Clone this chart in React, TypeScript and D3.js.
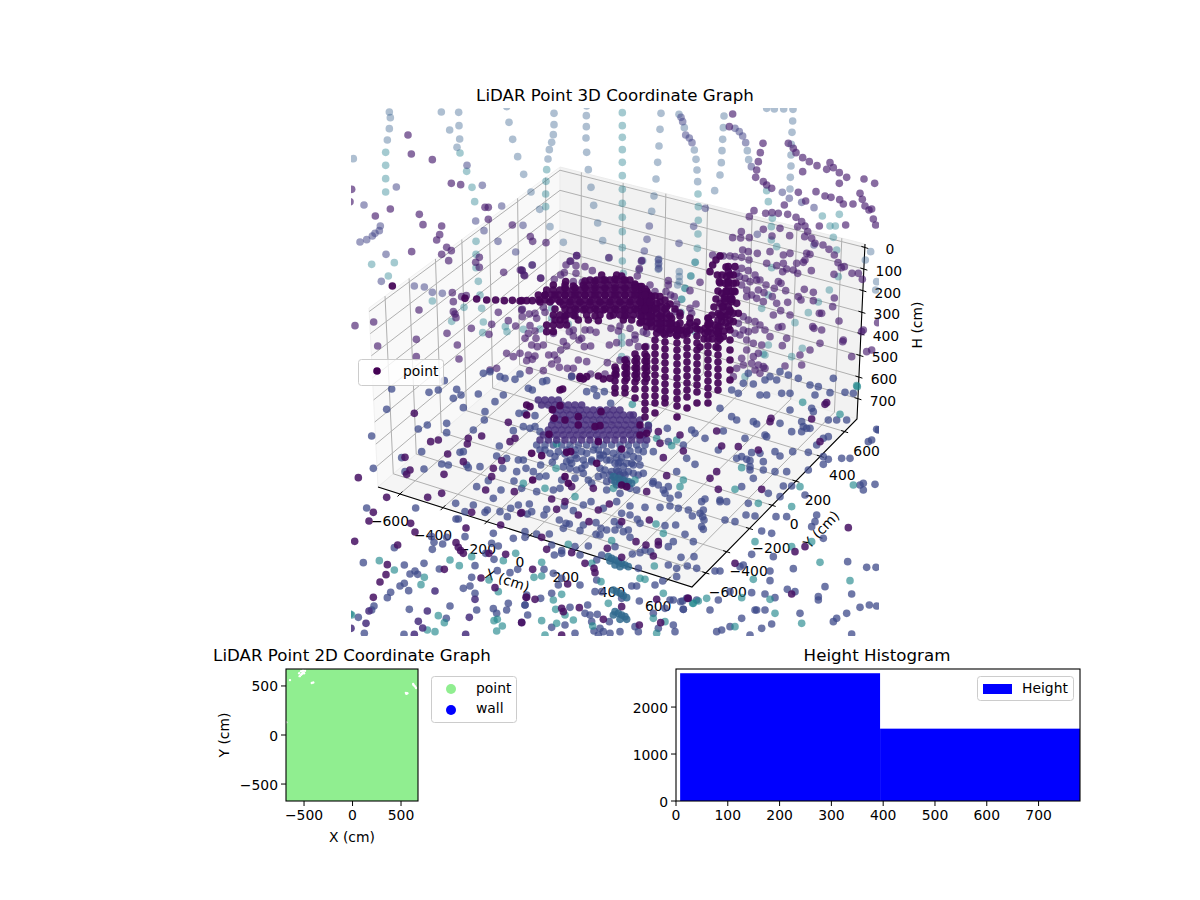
import React from "react";
import * as d3 from "d3";

type Pt = number[];

// ---- 3D scatter readings, each list in the reading-grid units of its sheet ----
const nwTeal: Pt[] = [[107,157],[107,196],[107,236],[107,276],[330,159],[350,214],[366,262],[374,305],[378,424],[378,463],[378,503],[385,544],[390,585],[395,625],[400,666],[398,698],[590,209],[588,244],[587,282],[587,320],[65,493],[133,488],[115,528],[247,603],[305,664],[342,622],[466,680],[471,695]];
const nwBlue: Pt[] = [[118,36],[121,53],[118,86],[112,120],[274,36],[326,37],[327,77],[329,117],[321,142],[299,90],[477,67],[488,118],[503,170],[521,223],[543,276],[569,328],[600,380],[612,40],[612,74],[610,104],[605,127],[598,149],[594,177],[709,47],[709,80],[708,114],[710,157],[715,209],[723,262],[731,316],[743,369],[758,422],[776,474],[10,176],[470,20],[710,18],[640,427]];
const nwLav: Pt[] = [[351,196],[397,256],[42,315],[139,261],[455,318],[30,426],[50,419],[67,408],[75,400],[88,392],[91,378],[94,544],[193,558],[223,561],[247,577],[277,580],[108,463],[377,363],[402,392],[444,424],[497,456],[546,495],[519,376]];
const nwPurple: Pt[] = [[174,105],[184,162],[247,179],[304,250],[332,254],[121,327],[76,348],[208,343],[219,374],[275,378],[269,404],[260,420],[185,455],[275,463],[290,442],[304,452],[296,482],[377,487],[388,472],[388,502],[405,322],[415,322],[415,358],[487,375],[541,410],[548,424],[588,428],[680,467],[660,484],[461,517],[511,510],[517,512],[524,527],[572,534],[515,630],[445,637],[207,630],[307,578],[310,605],[335,590],[349,587],[310,635],[315,642],[318,653],[71,666],[15,677],[83,738],[199,718],[291,700],[322,735],[364,685],[417,703],[425,673],[475,662],[497,678],[199,770],[327,777],[5,268],[0,305],[440,805],[420,810],[490,770],[470,760],[510,760]];
const nwDeep: Pt[] = [[127,558],[345,595],[380,597],[410,600],[437,600],[463,602],[487,601],[510,603]];

const neTeal: Pt[] = [[37,38],[37,77],[37,112],[37,149],[37,187],[37,227],[37,268],[37,310],[37,352],[37,395],[37,443],[264,282],[265,320],[265,361],[264,402],[262,445],[256,487],[243,528],[225,565],[215,598],[470,272],[475,305],[487,355],[484,380],[484,420],[485,503],[637,348],[660,378],[676,378],[688,343],[670,412],[680,450],[685,530],[658,570],[625,606],[595,638],[555,668],[577,745],[545,770],[460,762],[500,440]];
const neBlue: Pt[] = [[153,40],[150,88],[147,138],[143,187],[138,237],[132,288],[125,334],[207,43],[342,48],[340,83],[338,118],[336,152],[334,188],[330,225],[314,272],[549,28],[521,27],[493,27],[470,25],[548,63],[546,97],[544,133],[543,165],[543,198],[541,232],[540,267],[223,83],[258,178],[261,210],[263,245],[253,150],[416,179],[412,152],[782,455],[766,480],[800,545],[797,570]];
const neLav: Pt[] = [[118,378],[111,418],[103,453],[94,484],[146,478],[146,490],[146,505],[87,510],[286,325],[251,379],[207,430],[213,52],[218,65],[227,105],[238,114],[246,128],[375,85],[388,95],[398,108],[407,128],[424,200],[517,277],[538,295],[575,307],[612,323],[442,403],[612,435]];
const nePurple: Pt[] = [[368,42],[358,80],[459,130],[451,158],[445,185],[578,215],[440,210],[437,232],[460,245],[470,255],[485,265],[565,277],[587,303],[618,275],[645,288],[663,292],[689,299],[700,312],[729,312],[750,280],[757,298],[765,318],[777,330],[785,327],[790,357],[797,375],[535,130],[550,145],[558,158],[578,173],[598,185],[621,197],[650,208],[670,203],[660,188],[688,218],[710,232],[762,237],[794,250],[688,250],[523,315],[505,340],[533,343],[558,352],[575,365],[563,380],[585,378],[593,395],[605,415],[615,430],[639,435],[628,378],[707,375],[657,448],[673,465],[684,488],[694,503],[726,520],[703,500],[745,520],[757,538],[672,523],[432,332],[418,350],[467,340],[486,338],[460,388],[510,385],[539,407],[584,410],[580,487],[600,463],[590,460],[486,408],[418,413],[394,395],[392,414],[368,413],[398,450],[520,465],[540,460],[585,480],[560,490],[604,512],[550,510],[520,490],[500,497],[470,490],[518,515],[530,507],[563,520],[513,550],[527,572],[493,565],[505,545],[583,568],[610,577],[610,602],[565,590],[573,600],[533,607],[487,590],[500,610],[673,594],[668,620],[628,640],[635,640],[512,632],[540,645],[516,680],[505,682],[490,645],[612,685],[635,690],[608,680],[687,663],[600,750],[530,715],[570,765],[517,737],[575,795],[525,798],[460,800],[700,720],[698,725],[630,730],[760,690],[785,750],[770,755],[725,770],[803,668],[755,695],[480,455],[480,710]];

const swSlate: Pt[] = [[400,10],[420,5],[450,20],[465,25],[495,28],[510,12],[435,95],[460,75],[385,72],[405,125],[403,150],[370,180],[507,130],[490,182],[290,160],[290,188],[232,165],[205,177],[110,118],[125,57],[65,198],[215,245],[330,247],[340,245],[448,228],[440,258],[470,265],[458,295],[415,332],[390,290],[350,285],[355,293],[155,263],[165,305],[222,297],[275,282],[295,285],[70,295],[380,350],[320,58],[333,75],[310,85],[340,113],[237,67],[265,60],[283,32],[505,270],[500,305],[492,333],[453,360],[430,385]];
const swViolet: Pt[] = [[475,157],[480,215],[495,205],[395,198],[355,205],[352,222],[242,215],[265,210],[293,252],[455,272],[430,295],[425,320],[340,275],[165,262],[180,300],[170,313],[282,313],[25,323],[407,360],[493,365],[110,382],[233,382],[275,370],[193,130]];

const seSlate: Pt[] = [[415,10],[480,20],[510,5],[400,40],[430,42],[465,30],[500,30],[535,15],[565,25],[600,45],[625,50],[670,25],[365,60],[385,70],[450,75],[470,75],[515,70],[540,70],[615,75],[660,68],[705,67],[730,70],[540,120],[605,115],[610,125],[655,150],[680,150],[710,150],[575,155],[580,170],[590,175],[330,115],[365,140],[380,150],[430,155],[440,162],[510,160],[545,185],[575,185],[600,175],[655,200],[640,205],[620,225],[465,195],[405,205],[340,183],[470,200],[285,205],[325,240],[380,265],[450,250],[425,248],[395,260],[410,268],[420,272],[460,275],[495,245],[510,258],[548,245],[595,247],[640,260],[655,268],[640,283],[695,265],[720,265],[595,300],[530,305],[495,305],[460,300],[420,300],[420,290],[430,325],[395,350],[475,370],[520,348],[545,348],[510,380],[415,400],[330,395],[350,395],[285,387],[275,395],[280,420],[330,390],[270,430],[278,440],[282,450],[275,470],[280,478],[345,450],[375,455],[408,435],[435,438],[498,440],[530,440],[620,435],[585,375],[615,455],[605,470],[485,490],[455,483],[640,505],[425,553],[490,560],[390,590],[315,603],[330,603],[400,585],[480,603],[550,596],[713,575],[770,592],[798,592],[480,632],[532,658],[555,665],[645,650],[625,680],[625,690],[425,668],[465,672],[495,683],[360,665],[325,690],[212,695],[725,672],[750,712],[778,705],[800,708],[710,730],[680,745],[670,755],[570,730],[465,720],[440,720],[435,720],[485,762],[455,775],[395,745],[360,770],[335,780],[320,785],[300,720],[220,718],[725,792],[420,795],[760,340],[795,343],[760,360],[750,345],[800,178],[785,210],[775,215],[805,180]];
const seViolet: Pt[] = [[480,155],[483,145],[650,98],[645,103],[605,147],[630,215],[320,183],[335,228],[385,230],[445,240],[320,305],[300,325],[325,358],[455,358],[555,545],[585,530],[715,473],[375,580],[545,672],[235,685]];
const seTeal: Pt[] = [[742,50],[578,97],[690,133],[395,293],[375,358],[570,350],[445,400],[545,410],[545,530],[605,515],[435,515],[630,577],[720,632],[430,628],[480,688],[395,683],[290,685],[265,693],[250,700],[575,760],[495,730],[375,770],[730,345],[740,47]];

const arcPurple: Pt[] = [[170,17],[267,23],[37,45],[365,32],[358,56],[352,78],[62,85],[5,60],[12,75],[138,45],[152,33],[168,47],[195,50],[168,70],[122,75],[103,88],[160,95],[187,97],[217,62],[133,68],[7,178],[7,200],[28,192],[45,190],[50,205],[70,172],[75,187],[30,227],[25,250],[45,243],[48,265],[15,265],[35,285],[52,290],[70,285],[100,250],[130,275],[148,245],[160,240],[160,258],[185,265],[177,270],[193,290],[212,288],[140,288],[122,300],[195,240],[210,240],[228,247],[273,235],[295,243],[300,228],[330,235],[345,255],[345,268],[370,245],[380,250],[268,285],[290,278],[328,278],[355,290],[378,290],[86,315],[103,315],[112,330],[95,342],[118,352],[142,355],[160,355],[175,330],[200,335],[25,315],[20,332],[45,318],[37,328],[28,362],[70,362],[262,338],[300,330],[320,328],[255,372],[212,372],[155,378]];
const arcTeal: Pt[] = [[95,175],[95,205],[10,238],[60,237],[145,222],[305,260],[305,280],[307,33],[310,70],[305,320]];
const arcDeep: Pt[] = [[245,75],[290,75],[305,78],
[210,90],[230,90],[250,90],[270,90],[290,90],[310,90],[330,90],[137,95],
[100,105],[135,105],[160,108],[190,105],[205,105],[225,105],[245,105],[265,105],[285,105],[305,105],[325,105],[345,105],[360,110],
[80,120],[100,120],[120,120],[140,120],[160,120],[180,120],[200,120],[220,120],[240,120],[260,120],[280,120],[300,120],[320,120],[340,120],[360,120],[380,125],
[55,135],[75,135],[95,135],[115,135],[135,135],[155,135],[175,135],[195,135],[215,135],[235,135],[255,135],[275,135],[295,135],[315,135],[335,135],[355,135],[375,135],[388,135],
[5,152],[20,152],[37,152],[57,150],[75,150],[95,150],[115,150],[135,150],[155,150],[175,150],[195,150],[215,150],[235,150],[255,150],[275,150],[295,150],[315,150],[335,150],[355,150],[375,150],
[130,165],[150,165],[170,165],[190,165],[210,165],[230,165],[250,165],[270,165],[290,165],[310,165],[330,165],[350,165],[370,165],[388,165],
[150,180],[170,180],[190,180],[210,180],[230,180],[250,180],[270,180],[290,180],[310,180],[330,180],[350,180],[370,180],[385,185],
[100,195],[120,195],[140,195],[160,195],[200,195],[240,195],[280,195],[300,195],[320,195],[340,195],
[105,210],[120,210],[135,210],[175,210],[205,210],[235,212],[310,210],[335,210],
[80,225],[100,225],[120,225],[140,225],[80,245],[100,245],
[288,360],[288,375],[320,340],[320,355],[320,370],[320,385],[350,325],[350,340],[350,355],[350,370],[350,385],[380,320],[380,335],[380,350],[380,365],[380,385],[180,380],[200,380]];

const ridgeBlue: Pt[] = [[8,32],[55,30],[55,45],[55,58],[118,65],[118,80],[118,95],[113,105]];
const ridgeTeal: Pt[] = [[152,78],[165,37],[135,115],[125,148],[123,187],[165,245],[365,175],[375,315],[385,135],[385,285],[315,380]];
const ridgePurple: Pt[] = [[85,92],[85,105],[30,105],[45,125],[78,125],[92,135],[103,140],[180,97],[150,122],[110,162],[168,162],[105,185],[150,175],[155,190],[150,220],[218,15],[240,18],[270,18],[285,20],[305,22],[327,30],[352,10],[325,5],[250,18],[305,55],[325,62],[345,75],[360,90],[378,105],[350,90],[330,95],[315,85],[298,80],[290,70],[305,105],[320,120],[335,135],[350,145],[370,155],[320,140],[355,120],[372,128],[310,200],[325,210],[345,215],[360,225],[375,240],[345,240],[325,245],[310,240],[295,220],[300,255],[285,250],[320,270],[340,280],[365,285],[340,320],[355,310],[320,300],[335,340],[355,345],[375,355],[305,325],[310,345],[290,355],[345,360],[360,370],[280,380]];
const ridgeDeep: Pt[] = [[60,140],[5,110],[5,125],[20,125],[5,140],[20,140],[35,140],[5,155],[20,155],[35,155],[50,160],[5,170],[20,170],[35,170],[50,175],[65,170],[80,170],[5,185],[20,185],[35,185],[50,190],[65,190],[80,190],[5,200],[20,200],[35,200],[50,205],[65,205],[80,205],[95,205],[5,215],[20,215],[35,215],[50,220],[65,220],[80,220],[95,220],[110,225],[20,230],[35,230],[50,235],[65,235],[80,235],[95,235],[110,240],[125,240],[140,245],[50,250],[70,250],[90,250],[110,255],[130,255],
[205,205],[205,220],[195,235],[210,235],[195,250],[215,250],[265,50],[265,65],[260,80],[265,95],[265,110],[260,125],[255,140],[255,155],[250,170],[250,185],[245,200],[245,215],[240,230],[235,245],[255,200],[265,170],[275,155],[272,140],[275,125],[235,260],[250,260],[265,230],[280,190],[210,65],[218,45],[228,30],[240,18],[232,75],[238,95],[285,50],[280,75],[255,100],[280,100],[245,130],[285,125],[240,160],[270,185],[235,190],[225,225],[280,215],[290,160],[295,190]];

// columns of the long ridge, read in figure pixels
const columnDeep: Pt[] = [[615,367],[615,374],[615,381],[615,388],[615,393],
[625,360],[625,367],[625,374],[625,381],[625,388],[625,393],
[635,354],[635,361],[635,368],[635,375],[635,382],[635,389],[635,398],
[645,347],[645,354],[645,361],[645,368],[645,375],[645,382],[645,389],[645,396],[645,403],[645,410],[645,417],
[655,340],[655,347],[655,354],[655,361],[655,368],[655,375],[655,382],[655,389],[655,396],[655,403],[655,413],
[665,335],[665,342],[665,349],[665,356],[665,363],[665,370],[665,377],[665,384],[665,391],[665,398],[665,403],
[677,329],[677,336],[677,343],[677,350],[677,357],[677,364],[677,371],[677,378],[677,385],[677,392],[677,399],[677,406],[677,417],
[687,327],[687,334],[687,341],[687,348],[687,355],[687,362],[687,369],[687,376],[687,383],[687,390],[687,397],[687,408],
[697,322],[697,329],[697,336],[697,343],[697,350],[697,357],[697,364],[697,371],[697,378],[697,385],[697,392],[697,403],
[708,318],[708,325],[708,332],[708,339],[708,346],[708,353],[708,360],[708,367],[708,374],[708,381],[708,388],[708,395],[708,403],
[718,320],[718,327],[718,334],[718,341],[718,348],[718,355],[718,362],[718,369],[718,376],[718,383],[718,390],
[730,300],[730,310],[730,320],[730,330],[730,340],[730,350],[730,360],[730,370],[730,380],
[726,267],[722,275],[730,275],[720,283],[728,283],[736,283],[718,291],[726,291],[734,291],[716,299],[724,299],[732,299],[714,307],[722,307],[712,315],[720,315],[728,315],[710,323],[726,323],[716,331],[724,331],[704,339],[712,339],[720,339],[700,347],[716,347]];
const bulkDeep: Pt[] = [[585,281],[595,281],[605,280],[615,279],[625,280],[635,284],
[565,288],[575,288],[585,288],[595,288],[605,288],[615,288],[625,288],[635,288],[645,289],
[545,295],[555,295],[565,295],[575,295],[585,295],[595,295],[605,295],[615,295],[625,295],[635,295],[645,295],[655,296],[665,300],
[540,302],[550,302],[560,302],[570,302],[580,302],[590,302],[600,302],[610,302],[620,302],[630,302],[640,302],[650,302],[660,302],[670,304],
[555,309],[565,309],[575,309],[585,309],[595,309],[605,309],[615,309],[625,309],[635,309],[645,309],[655,309],[665,309],[675,309],[680,313],
[565,316],[575,316],[595,316],[610,316],[625,316],[640,316],[650,316],[660,316],[670,316],[680,316],[690,318],
[640,323],[650,323],[660,323],[670,323],[680,323],[690,323],[695,326],[660,330],[670,330],[680,330],[690,330],[700,330]];

const domeDeep: Pt[] = [[20,90],[30,95],[120,45],[128,42],[120,92],[97,104],[103,130],[135,135],[175,125],[243,110],[225,155],[240,152],[175,150],[360,150],[360,180],[380,175],[235,200],[152,230],[140,232],[87,178],[65,242],[35,235],[230,265],[305,222],[135,305],[145,325],[38,315],[305,330],[320,335],[20,120],[180,10],[190,12],[235,3],[250,12],[270,10]];
const domeIndigo: Pt[] = [[55,75],[75,75],[95,75],[115,75],[65,90],[85,90],[105,90],[125,90],[145,90],[165,90],[185,90],[100,105],[120,105],[140,105],[160,105],[180,105],[200,105],[220,105],[240,105],[260,105],[280,105],[300,105],[110,120],[130,120],[150,120],[170,120],[190,120],[210,120],[230,120],[250,120],[270,120],[290,120],[310,120],[330,120],[340,120],[100,135],[120,135],[140,135],[160,135],[180,135],[200,135],[220,135],[240,135],[260,135],[280,135],[300,135],[320,135],[340,135],[360,135],[95,150],[115,150],[135,150],[155,150],[175,150],[195,150],[215,150],[235,150],[255,150],[275,150],[295,150],[315,150],[335,150],[355,150],[385,152],[85,165],[105,165],[125,165],[145,165],[165,165],[185,165],[205,165],[225,165],[245,165],[265,165],[285,165],[305,165],[325,165],[345,165],[365,165],[385,165],[70,180],[90,180],[110,180],[130,180],[150,180],[170,180],[190,180],[210,180],[230,180],[250,180],[270,180],[290,180],[310,180],[330,180],[350,180],[370,180],[60,195],[85,195],[110,195],[135,195],[160,195],[185,195],[210,195],[235,195],[260,195],[285,195],[310,195],[335,195],[360,195],[380,195]];
const domeSlate: Pt[] = [[50,210],[75,210],[100,210],[125,210],[150,210],[175,210],[200,210],[225,210],[250,210],[275,210],[300,210],[325,210],[350,210],[375,210],[115,230],[185,230],[200,235],[220,225],[290,248],[305,248],[340,245],[355,250],[370,230],[400,230],[25,40],[37,45],[68,20],[80,17],[155,5],[200,50],[222,42],[230,62],[253,50],[272,85],[15,115],[45,122],[10,155],[30,160],[45,155],[60,170],[10,255],[18,280],[40,290],[58,305],[78,303],[97,262],[62,270],[135,237],[140,260],[155,265],[445,200],[490,210],[500,250],[525,268],[515,165],[525,175],[442,160],[335,265],[290,285],[325,290],[370,295],[400,320],[415,330],[470,290],[445,335],[430,345],[398,325],[350,345],[300,355],[260,345],[205,315],[215,325],[235,305],[250,300],[270,300],[300,300],[315,320],[185,280],[195,270],[165,310],[100,345],[120,340],[125,315],[50,350],[5,340],[435,355],[450,370],[475,360],[290,330],[300,315],[330,340],[295,265],[310,275],[270,255],[250,240],[165,225],[320,240],[280,235],[240,240],[215,260],[190,295],[260,320],[275,315],[285,305],[315,300],
[150,255],[170,250],[190,255],[215,255],[240,250],[260,255],[285,265],[300,262],[320,265],[340,270],[360,270],[130,275],[150,280],[170,285],[240,280],[255,285],[275,290],[295,290],[310,295],[340,295],[355,300],[140,225],[165,240],[235,225],[260,230],[300,228],[330,228],[355,225],[90,235],[105,245],[75,225],[60,225]];
const domeTeal: Pt[] = [[337,88],[110,207],[108,280],[345,315],[480,335],[490,315],[410,190],[470,195],[455,212],[280,340],[75,340],[10,325],[165,365],[385,150]];
const domeSteel: Pt[] = [[280,305],[295,310],[310,315],[325,320],[335,325],[285,320],[300,325],[315,330]];
const domeViolet: Pt[] = [[420,205],[430,248],[490,228],[480,180],[415,170],[380,350],[440,302],[220,340],[95,372],[135,380],[155,335]];

const lowSlate: Pt[] = [[50,24],[197,24],[318,57],[325,57],[245,110],[252,127],[290,112],[278,132],[247,148],[345,110],[40,188],[163,195],[222,190],[180,222],[195,213],[203,223],[150,258],[163,250],[176,272],[122,277],[112,293],[72,318],[65,330],[25,352],[178,328],[300,318],[340,265],[360,258],[365,232],[375,197],[375,280],[380,330],[430,100],[445,138],[425,130],[407,160],[432,178],[442,212],[480,218],[503,208],[525,95],[490,115],[430,326],[475,310],[470,330],[525,315],[440,340],[289,355],[268,207],[162,403],[43,400],[530,285],[533,345],[317,10],[370,15],[405,37],[412,30],[450,35],[472,50],[482,25],[505,15],[133,143],[345,35]];
const lowTeal: Pt[] = [[88,182],[133,210],[223,232],[213,254],[300,180],[328,197],[365,170],[497,160],[460,182],[417,240],[445,275],[265,347],[283,368],[442,358],[432,362],[457,378],[440,393],[232,390],[255,395],[0,342],[5,345]];
const lowIndigo: Pt[] = [[232,333],[57,333],[48,370],[205,364],[218,384],[3,385],[347,403],[515,367],[358,352],[193,403],[375,298],[255,273]];
const lowViolet: Pt[] = [[70,37],[57,63],[182,70],[195,96],[14,124],[143,135],[112,194],[108,224],[90,246],[70,292],[283,208],[348,84],[318,128],[325,142],[332,152],[340,160],[417,160],[467,163],[393,234],[435,263],[530,292],[365,37],[512,40],[452,75]];

const footSlate: Pt[] = [[28,12],[35,35],[22,42],[72,45],[80,28],[133,18],[160,32],[190,15],[213,5],[250,25],[290,5],[330,18],[375,22],[420,22],[450,18],[475,25],[505,30],[517,48],[118,60],[138,70],[130,85],[148,72],[190,75],[228,68],[180,92],[228,103],[243,85],[260,90],[240,105],[283,65],[305,40],[330,45],[352,58],[360,70],[435,77],[467,75],[330,112],[325,90],[310,95],[298,75],[285,90],[495,103],[520,125],[460,125],[445,140],[375,150],[392,155],[483,172],[522,170],[445,195],[470,205],[502,198],[530,205],[470,230],[355,205],[428,243],[500,295],[15,112],[50,102],[88,102],[95,135],[125,152],[103,165],[125,160],[165,140],[205,138],[180,165],[285,140],[245,165],[230,180],[337,162],[360,158],[72,208],[100,220],[125,235],[115,255],[180,255],[230,240],[225,275],[245,275],[305,295],[335,258],[350,258],[358,303],[405,255],[450,300],[460,300],[488,303],[530,300],[490,328],[435,325],[400,340],[203,315],[62,295],[15,315],[95,280],[150,322],[195,340],[210,345],[232,343],[345,380],[268,365],[215,365],[95,382],[135,375],[222,393],[240,385],[250,395],[300,395],[355,395],[415,385],[460,375],[465,395],[165,400],[235,405],[270,400]];
const footSteel: Pt[] = [[265,170],[275,175],[285,180],[295,185],[305,190],[315,195],[325,200],[270,183],[285,195],[300,200],[280,270],[290,275],[300,280],[310,287],[320,293],[285,335],[295,340],[305,345],[315,350],[320,358],[300,358],[280,345]];
const footTeal: Pt[] = [[408,72],[430,100],[275,122],[145,133],[215,190],[360,235],[375,238],[403,198],[65,187],[65,228],[42,232],[243,245],[430,280],[518,310],[265,310],[125,283],[100,300],[107,328],[135,345],[400,355],[435,365],[218,378],[160,360],[110,370],[65,362],[410,400],[75,405]];
const footViolet: Pt[] = [[5,38],[110,28],[175,45],[235,30],[268,12],[207,65],[388,60],[348,125],[305,65],[415,125],[415,135],[378,135],[400,168],[65,112],[80,148],[155,158],[262,145],[305,172],[38,208],[143,252],[195,190],[222,205],[225,218],[305,320],[410,298],[503,295],[178,323],[18,292],[45,298],[125,325],[130,335],[250,358],[422,368],[358,375],[5,368],[125,405]];

// viewport of each reading sheet in figure pixels: [x0, y0, width, height, units per pixel]
const sheetNW = [350, 100, 270, 270, 3];
const sheetNE = [610, 100, 280, 270, 3];
const sheetSW = [350, 370, 270, 270, 3];
const sheetSE = [610, 370, 280, 270, 3];
const sheetArc = [520, 250, 130, 130, 3];
const sheetRidge = [640, 250, 130, 130, 3];
const sheetDome = [520, 375, 180, 130, 3];
const sheetLow = [350, 500, 180, 140, 3];
const sheetFoot = [520, 500, 180, 140, 3];
const sheetFigure = [0, 0, 1200, 900, 1];

// height-colour value and depth-shade alpha of each shade
const shadePaleTeal = [0.43, 0.42];
const shadePaleBlue = [0.3, 0.4];
const shadeLav = [0.2, 0.52];
const shadePurple = [0.08, 0.65];
const shadeDeep = [0.01, 0.93];
const shadeSlate = [0.22, 0.75];
const shadeSteel = [0.34, 0.85];
const shadeTeal = [0.47, 0.65];
const shadeIndigo = [0.13, 0.85];
const shadeViolet = [0.04, 0.85];

const layers: [number[], number[], Pt[]][] = [
  [sheetNW, shadePaleTeal, nwTeal], [sheetNE, shadePaleTeal, neTeal], [sheetArc, shadePaleTeal, arcTeal], [sheetRidge, shadePaleTeal, ridgeTeal],
  [sheetNW, shadePaleBlue, nwBlue], [sheetNE, shadePaleBlue, neBlue], [sheetRidge, shadePaleBlue, ridgeBlue],
  [sheetNW, shadeLav, nwLav], [sheetNE, shadeLav, neLav],
  [sheetNW, shadePurple, nwPurple], [sheetNE, shadePurple, nePurple], [sheetRidge, shadePurple, ridgePurple], [sheetArc, shadePurple, arcPurple],
  [sheetSW, shadeSlate, swSlate], [sheetSE, shadeSlate, seSlate], [sheetDome, shadeSlate, domeSlate], [sheetLow, shadeSlate, lowSlate], [sheetFoot, shadeSlate, footSlate],
  [sheetSE, shadeTeal, seTeal], [sheetDome, shadeTeal, domeTeal], [sheetLow, shadeTeal, lowTeal], [sheetFoot, shadeTeal, footTeal],
  [sheetDome, shadeSteel, domeSteel], [sheetFoot, shadeSteel, footSteel],
  [sheetDome, shadeIndigo, domeIndigo], [sheetLow, shadeIndigo, lowIndigo],
  [sheetSW, shadeViolet, swViolet], [sheetSE, shadeViolet, seViolet], [sheetDome, shadeViolet, domeViolet], [sheetLow, shadeViolet, lowViolet], [sheetFoot, shadeViolet, footViolet],
  [sheetNW, shadeDeep, nwDeep], [sheetArc, shadeDeep, arcDeep], [sheetRidge, shadeDeep, ridgeDeep], [sheetFigure, shadeDeep, columnDeep], [sheetFigure, shadeDeep, bulkDeep], [sheetDome, shadeDeep, domeDeep],
];

// ---- axes ----
const xTicks3d = [-600, -400, -200, 0, 200, 400, 600];
const xFractions = [0.07, 0.207, 0.347, 0.484, 0.63, 0.777, 0.924];
const yFractions = [0.084, 0.21, 0.348, 0.486, 0.63, 0.778, 0.925];
const hTicks = [0, 100, 200, 300, 400, 500, 600, 700];

const topLeft: Pt = [369, 308];
const topBack: Pt = [560, 167];
const topRight: Pt = [865, 244];
const floorLeft: Pt = [378, 487];
const floorBack: Pt = [560, 330];
const floorRight: Pt = [857, 419];
const floorFront: Pt = [692, 587];

const ticks2dX = [-500, 0, 500];
const ticks2dY = [-500, 0, 500];
const gaps2d: Pt[] = [[-545, 600], [-530, 615], [-510, 640], [-490, 655], [-510, 660], [-530, 650], [-550, 630], [-520, 625], [-500, 630], [-420, 530], [-405, 535], [625, 520], [632, 508], [645, 495], [655, 480], [550, 430], [565, 425], [555, 420], [-684, 130], [-645, 560]];

const histEdges = [8, 394, 780];
const histCounts = [2720, 1540];
const histTicksX = [0, 100, 200, 300, 400, 500, 600, 700];
const histTicksY = [0, 1000, 2000];

const FONT = "'DejaVu Sans', sans-serif";
const lerp = (a: Pt, b: Pt, t: number): Pt => [a[0] + (b[0] - a[0]) * t, a[1] + (b[1] - a[1]) * t];
const fmt = (v: number) => String(v).replace("-", "\u2212");

export default function App() {
  const hFrac = d3.scaleLinear().domain([-16, 794]).range([0, 1]);
  const line = d3.line();
  const grid = (a: Pt, b: Pt, key: string) => (
    <line key={key} x1={a[0]} y1={a[1]} x2={b[0]} y2={b[1]} stroke="#b0b0b0" strokeWidth={1} />
  );
  const poly = (pts: Pt[], fill: string) => (
    <path d={line(pts as [number, number][]) + "Z"} fill={fill} stroke={fill === "#f9f9f9" ? "#f1f1f1" : "#ececec"} strokeWidth={1} />
  );
  const tx = [-3.5, 3.5];

  // 2D panel
  const x2 = d3.scaleLinear().domain([-686, 675]).range([286, 418]);
  const y2 = d3.scaleLinear().domain([-673, 673]).range([801, 669]);
  // histogram
  const xh = d3.scaleLinear().domain([0, 780]).range([676, 1080]);
  const yh = d3.scaleLinear().domain([0, 2810]).range([801, 669]);
  const txt = { fontFamily: FONT, fontSize: 13.9, fill: "#000" } as const;

  return (
    <svg width={1200} height={900} style={{ position: "absolute", left: 0, top: 0, background: "#fff" }}>
      <defs>
        <clipPath id="clip3d"><rect x={351} y={108} width={528} height={528} /></clipPath>
      </defs>
      <text x={615} y={101} textAnchor="middle" style={{ ...txt, fontSize: 16.67 }}>LiDAR Point 3D Coordinate Graph</text>

      {/* panes */}
      {poly([topLeft, topBack, floorBack, floorLeft], "#f9f9f9")}
      {poly([topBack, topRight, floorRight, floorBack], "#f2f2f2")}
      {poly([floorLeft, floorBack, floorRight, floorFront], "#f5f5f5")}

      {/* grid */}
      {xTicks3d.map((_, i) => (
        <g key={"gx" + i}>
          {grid(lerp(floorLeft, floorFront, xFractions[i]), lerp(floorBack, floorRight, xFractions[i]), "a")}
          {grid(lerp(floorBack, floorRight, xFractions[i]), lerp(topBack, topRight, xFractions[i]), "b")}
        </g>
      ))}
      {xTicks3d.map((_, i) => (
        <g key={"gy" + i}>
          {grid(lerp(floorFront, floorRight, yFractions[i]), lerp(floorLeft, floorBack, yFractions[i]), "a")}
          {grid(lerp(floorLeft, floorBack, yFractions[i]), lerp(topLeft, topBack, yFractions[i]), "b")}
        </g>
      ))}
      {hTicks.map((h) => {
        const t = hFrac(h);
        const l = lerp(topLeft, floorLeft, t), k = lerp(topBack, floorBack, t), r = lerp(topRight, floorRight, t);
        return <g key={"gh" + h}>{grid(l, k, "a")}{grid(k, r, "b")}</g>;
      })}

      {/* axes lines and ticks */}
      <path d={line([floorLeft, floorFront, floorRight, topRight] as [number, number][])!} fill="none" stroke="#000" strokeWidth={1.1} />
      {xTicks3d.map((v, i) => {
        const p = lerp(floorLeft, floorFront, xFractions[i]);
        return (
          <g key={"xt" + v}>
            <line x1={p[0] + tx[0] * 0.7} y1={p[1] + 3.5 * 0.71} x2={p[0] + tx[1] * 0.7} y2={p[1] - 3.5 * 0.71} stroke="#000" />
            <text x={p[0] - 10} y={p[1] + 32} textAnchor="middle" style={txt}>{fmt(v)}</text>
          </g>
        );
      })}
      {xTicks3d.map((v, i) => {
        const p = lerp(floorFront, floorRight, yFractions[i]);
        return (
          <g key={"yt" + v}>
            <line x1={p[0] - 3.5} y1={p[1] - 1.1} x2={p[0] + 3.5} y2={p[1] + 1.1} stroke="#000" />
            <text x={p[0] + 22} y={p[1] + 24} textAnchor="middle" style={txt}>{fmt(v)}</text>
          </g>
        );
      })}
      {hTicks.map((h) => {
        const p = lerp(topRight, floorRight, hFrac(h));
        return (
          <g key={"ht" + h}>
            <line x1={p[0] - 3.5} y1={p[1] - 1.1} x2={p[0] + 3.5} y2={p[1] + 1.1} stroke="#000" />
            <text x={p[0] + 25} y={p[1] + 7} textAnchor="middle" style={txt}>{h}</text>
          </g>
        );
      })}
      <text transform="translate(507,581) rotate(18)" textAnchor="middle" dominantBaseline="middle" style={txt}>X (cm)</text>
      <text transform="translate(822,530) rotate(-47)" textAnchor="middle" dominantBaseline="middle" style={txt}>Y (cm)</text>
      <text transform="translate(918,325) rotate(-90)" textAnchor="middle" dominantBaseline="middle" style={txt}>H (cm)</text>

      {/* scatter */}
      <g clipPath="url(#clip3d)">
        {layers.map(([sheet, shade, pts], li) => {
          const sx = d3.scaleLinear().domain([0, sheet[2] * sheet[4]]).range([sheet[0], sheet[0] + sheet[2]]);
          const sy = d3.scaleLinear().domain([0, sheet[3] * sheet[4]]).range([sheet[1], sheet[1] + sheet[3]]);
          const c = d3.interpolateViridis(shade[0]);
          return (
            <g key={li} fill={c} fillOpacity={shade[1]}>
              {pts.map((p, i) => <circle key={i} cx={sx(p[0])} cy={sy(p[1])} r={3.8} />)}
            </g>
          );
        })}
      </g>

      {/* 3D legend */}
      <rect x={358.5} y={359.5} width={85} height={26} rx={3} fill="#fff" fillOpacity={0.8} stroke="#ccc" />
      <circle cx={377} cy={371} r={3.8} fill={d3.interpolateViridis(0)} />
      <text x={403} y={376} style={txt}>point</text>

      {/* 2D panel */}
      <text x={352} y={661} textAnchor="middle" style={{ ...txt, fontSize: 16.67 }}>LiDAR Point 2D Coordinate Graph</text>
      <rect x={286} y={669} width={132} height={132} fill="#90ee90" />
      <g fill="#fff">
        {gaps2d.map((g, i) => <circle key={i} cx={x2(g[0])} cy={y2(g[1])} r={1.2} />)}
      </g>
      <rect x={286} y={669} width={132} height={132} fill="none" stroke="#000" strokeWidth={1.1} />
      {ticks2dX.map((v) => (
        <g key={v}>
          <line x1={x2(v)} x2={x2(v)} y1={801} y2={806} stroke="#000" />
          <text x={x2(v)} y={820} textAnchor="middle" style={txt}>{fmt(v)}</text>
        </g>
      ))}
      {ticks2dY.map((v) => (
        <g key={v}>
          <line x1={281} x2={286} y1={y2(v)} y2={y2(v)} stroke="#000" />
          <text x={278} y={y2(v) + 5.5} textAnchor="end" style={txt}>{fmt(v)}</text>
        </g>
      ))}
      <text x={352} y={842} textAnchor="middle" style={txt}>X (cm)</text>
      <text transform="translate(225,735) rotate(-90)" textAnchor="middle" dominantBaseline="middle" style={txt}>Y (cm)</text>
      <rect x={431.5} y={676.5} width={85} height={46} rx={3} fill="#fff" stroke="#ccc" />
      <circle cx={451} cy={689} r={5} fill="#90ee90" />
      <circle cx={451} cy={710} r={5} fill="#0000ff" />
      <text x={476} y={693} style={txt}>point</text>
      <text x={476} y={713} style={txt}>wall</text>

      {/* histogram */}
      <text x={877} y={661} textAnchor="middle" style={{ ...txt, fontSize: 16.67 }}>Height Histogram</text>
      {histCounts.map((c, i) => (
        <rect key={i} x={xh(histEdges[i])} y={yh(c)} width={xh(histEdges[i + 1]) - xh(histEdges[i])} height={801 - yh(c)} fill="#0000ff" />
      ))}
      <rect x={676} y={669} width={404} height={132} fill="none" stroke="#000" strokeWidth={1.1} />
      {histTicksX.map((v) => (
        <g key={v}>
          <line x1={xh(v)} x2={xh(v)} y1={801} y2={806} stroke="#000" />
          <text x={xh(v)} y={820} textAnchor="middle" style={txt}>{v}</text>
        </g>
      ))}
      {histTicksY.map((v) => (
        <g key={v}>
          <line x1={671} x2={676} y1={yh(v)} y2={yh(v)} stroke="#000" />
          <text x={668} y={yh(v) + 5.5} textAnchor="end" style={txt}>{v}</text>
        </g>
      ))}
      <rect x={977.5} y={676.5} width={96} height={24} rx={3} fill="#fff" fillOpacity={0.8} stroke="#ccc" />
      <rect x={983} y={684} width={29} height={10} fill="#0000ff" />
      <text x={1022} y={693} style={txt}>Height</text>
    </svg>
  );
}
